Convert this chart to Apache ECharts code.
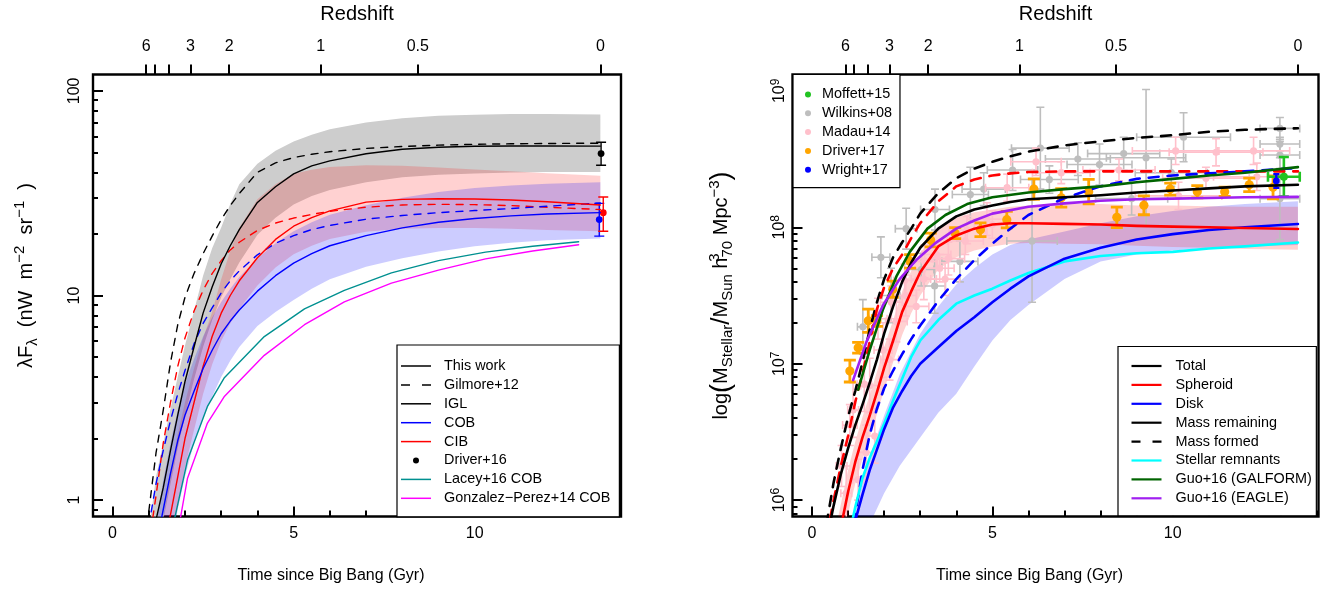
<!DOCTYPE html>
<html>
<head>
<meta charset="utf-8">
<script src="https://cdn.jsdelivr.net/npm/echarts@6/dist/echarts.min.js"></script>
<style>
html,body{margin:0;padding:0;background:#fff;}
#chart{width:1335px;height:599px;}
</style>
</head>
<body>
<div id="chart"></div>
<script>
// ---------- shared time axis (Gyr since Big Bang) and redshift ticks ----------
const redshiftZ = [6, 5, 4, 3, 2, 1, 0.5, 0];
const redshiftT = [0.93, 1.17, 1.55, 2.15, 3.22, 5.75, 8.43, 13.47];
const redshiftLabelled = [6, 3, 2, 1, 0.5, 0];
const timeMajor = [0, 5, 10];
const timeMinor = [1, 2, 3, 4, 6, 7, 8, 9, 11, 12, 13, 14];

// ---------- left panel: background light (nW m^-2 sr^-1) ----------
const eblMajor = [1, 10, 100];
const eblMinor = [0.9, 2, 3, 4, 5, 6, 7, 8, 9, 20, 30, 40, 50, 60, 70, 80, 90];

const tL = [1.0, 1.2, 1.4, 1.6, 1.8, 2.0, 2.25, 2.5, 2.75, 3.0, 3.25, 3.5, 4.0, 4.5, 5.0, 5.5, 6.0, 7.0, 8.0, 9.0, 10.0, 11.0, 12.0, 13.47];
const iglThisWork = [0.45, 0.80, 1.15, 1.75, 2.6, 3.8, 5.6, 8.2, 11.0, 14.3, 17.5, 21.0, 28.5, 34.0, 39.3, 43.0, 45.5, 49.3, 51.8, 53.0, 53.6, 53.8, 53.8, 53.7];
const iglLow = [0.3, 0.55, 0.8, 1.2, 1.8, 2.6, 3.9, 5.6, 7.6, 9.8, 12.0, 14.5, 19.8, 24.0, 27.8, 30.6, 32.8, 35.8, 37.8, 38.9, 39.5, 39.9, 40.1, 40.1];
const iglHigh = [0.7, 1.3, 1.9, 2.8, 4.0, 5.7, 8.4, 12.5, 17.0, 21.5, 28.0, 35.0, 44.0, 51.0, 56.5, 61.0, 65.0, 70.0, 73.5, 75.5, 76.5, 77.0, 77.0, 76.6];
const iglGilmore = [0.88, 1.7, 2.75, 4.7, 7.2, 9.8, 12.8, 16.0, 19.5, 23.5, 27.5, 31.5, 40.0, 44.5, 47.2, 49.0, 50.4, 52.3, 53.5, 54.3, 54.8, 55.1, 55.3, 55.5];
const cobThisWork = [0.35, 0.6, 0.9, 1.35, 1.95, 2.6, 3.4, 4.4, 5.4, 6.5, 7.5, 8.5, 10.5, 12.5, 14.4, 16.0, 17.5, 19.6, 21.4, 22.8, 23.8, 24.5, 25.0, 25.4];
const cobLow = [0.15, 0.25, 0.38, 0.55, 0.9, 1.3, 1.9, 2.5, 3.2, 4.0, 4.8, 5.6, 7.1, 8.3, 9.5, 10.8, 12.0, 13.8, 15.2, 16.4, 17.4, 18.1, 18.6, 19.0];
const cobHigh = [0.5, 0.75, 1.25, 1.9, 2.75, 3.7, 4.9, 6.3, 7.8, 9.3, 10.8, 12.3, 15.2, 18.0, 20.6, 22.8, 24.8, 27.6, 30.0, 32.0, 33.5, 34.5, 35.2, 35.8];
const cobGilmore = [0.75, 1.2, 1.75, 2.45, 3.3, 4.3, 5.8, 7.3, 8.7, 10.3, 11.8, 13.2, 15.8, 18.0, 19.6, 21.0, 22.0, 23.6, 24.6, 25.4, 26.0, 26.6, 27.3, 28.3];
const cibThisWork = [0.25, 0.4, 0.6, 0.85, 1.3, 2.0, 3.0, 4.5, 6.3, 8.2, 10.0, 11.8, 15.3, 18.8, 21.8, 24.0, 25.9, 28.6, 29.5, 29.7, 29.6, 29.3, 28.7, 27.7];
const cibLow = [0.18, 0.3, 0.45, 0.6, 0.95, 1.45, 2.2, 3.3, 4.6, 6.0, 7.3, 8.6, 11.2, 13.7, 15.9, 17.5, 18.9, 20.5, 21.2, 21.4, 21.4, 21.2, 20.9, 20.6];
const cibHigh = [0.35, 0.55, 0.82, 1.35, 2.1, 3.0, 4.4, 6.2, 8.3, 12.0, 16.5, 21.5, 29.5, 35.0, 39.3, 41.2, 42.4, 43.3, 43.0, 42.2, 41.3, 40.5, 39.6, 38.5];
const cibGilmore = [0.6, 1.05, 1.9, 3.0, 4.5, 6.2, 8.4, 10.6, 12.8, 14.8, 16.7, 18.2, 20.8, 22.6, 23.9, 24.9, 25.8, 27.0, 27.7, 27.9, 27.8, 27.5, 27.0, 26.3];

const laceyT = [1.55, 2.07, 2.62, 3.08, 4.19, 5.3, 6.4, 7.7, 9.0, 10.3, 11.6, 12.87];
const laceyCOB = [0.6, 1.57, 2.87, 3.95, 6.3, 8.6, 10.6, 12.9, 14.8, 16.3, 17.4, 18.3];
const gonzalezT = [1.7, 2.07, 2.62, 3.08, 4.19, 5.3, 6.4, 7.7, 9.0, 10.3, 11.6, 12.87];
const gonzalezCOB = [0.55, 1.28, 2.38, 3.2, 5.1, 7.2, 9.3, 11.5, 13.3, 15.1, 16.5, 17.7];

// Driver+16 measurements at z=0: IGL, COB, CIB
const driver16T = [13.49, 13.44, 13.55];
const driver16Val = [49.4, 23.5, 25.4];
const driver16Low = [43.3, 19.5, 20.6];
const driver16High = [56.1, 28.2, 30.3];
const driver16Colors = ['#000000', '#0000ff', '#ff0000'];

// ---------- right panel: stellar mass density (log10 values) ----------
const massMajor = [1e6, 1e7, 1e8, 1e9];
const massMinor = [8e5, 9e5, 2e6, 3e6, 4e6, 5e6, 6e6, 7e6, 8e6, 9e6, 2e7, 3e7, 4e7, 5e7, 6e7, 7e7, 8e7, 9e7, 2e8, 3e8, 4e8, 5e8, 6e8, 7e8, 8e8, 9e8];

const tR = [0.4, 0.6, 0.8, 1.0, 1.2, 1.4, 1.6, 1.8, 2.0, 2.25, 2.5, 2.75, 3.0, 3.5, 4.0, 4.5, 5.0, 5.5, 6.0, 7.0, 8.0, 9.0, 10.0, 11.0, 12.0, 13.47];
const logTotal = [5.70, 5.96, 6.19, 6.38, 6.55, 6.70, 6.86, 7.03, 7.22, 7.42, 7.60, 7.74, 7.85, 7.99, 8.08, 8.13, 8.16, 8.185, 8.205, 8.22, 8.235, 8.255, 8.27, 8.285, 8.30, 8.312];
const logSpheroid = [null, null, 5.80, 6.06, 6.28, 6.46, 6.62, 6.79, 6.97, 7.17, 7.38, 7.53, 7.67, 7.86, 7.94, 7.99, 8.02, 8.03, 8.03, 8.025, 8.02, 8.01, 8.005, 8.0, 7.995, 7.987];
const logDisk = [null, null, null, 5.6, 5.85, 6.04, 6.22, 6.37, 6.52, 6.68, 6.80, 6.91, 7.00, 7.12, 7.24, 7.34, 7.45, 7.55, 7.64, 7.77, 7.85, 7.91, 7.95, 7.98, 8.0, 8.024];
const logMassFormed = [5.82, 6.13, 6.38, 6.61, 6.80, 7.01, 7.25, 7.45, 7.62, 7.78, 7.89, 7.99, 8.10, 8.25, 8.36, 8.43, 8.48, 8.52, 8.555, 8.60, 8.63, 8.655, 8.675, 8.70, 8.715, 8.726];
const logSpheroidFormed = [5.72, 6.00, 6.25, 6.47, 6.72, 6.93, 7.16, 7.40, 7.56, 7.70, 7.80, 7.92, 8.03, 8.19, 8.30, 8.35, 8.38, 8.395, 8.405, 8.41, 8.41, 8.41, 8.41, 8.41, 8.41, 8.41];
const logDiskFormed = [null, null, null, 5.55, 5.89, 6.22, 6.48, 6.67, 6.82, 6.95, 7.07, 7.18, 7.28, 7.46, 7.62, 7.76, 7.88, 7.99, 8.09, 8.215, 8.30, 8.355, 8.38, 8.395, 8.41, 8.435];
const logRemnants = [null, null, null, 5.70, 5.95, 6.16, 6.31, 6.43, 6.56, 6.73, 6.89, 7.05, 7.17, 7.32, 7.44, 7.50, 7.55, 7.61, 7.665, 7.75, 7.79, 7.81, 7.82, 7.845, 7.86, 7.888];

const galformT = [1.28, 1.6, 1.97, 2.34, 2.71, 3.2, 3.7, 4.3, 5.0, 6.0, 7.0, 8.0, 9.0, 10.0, 11.0, 12.0, 13.47];
const logGalform = [6.81, 7.10, 7.40, 7.64, 7.82, 7.99, 8.09, 8.17, 8.22, 8.255, 8.28, 8.30, 8.33, 8.355, 8.38, 8.40, 8.441];
const eagleT = [1.14, 1.51, 1.97, 2.43, 2.89, 3.4, 4.0, 4.5, 5.0, 6.0, 7.0, 8.0, 9.0, 10.0, 11.0, 12.0, 13.47];
const logEagle = [6.88, 7.16, 7.43, 7.62, 7.76, 7.88, 7.99, 8.05, 8.10, 8.15, 8.175, 8.195, 8.205, 8.21, 8.215, 8.22, 8.223];

const diskBandT = [1.0, 1.15, 1.4, 1.7, 2.0, 2.43, 3.0, 3.5, 4.0, 4.5, 5.0, 5.5, 6.0, 7.0, 8.0, 9.0, 10.0, 11.0, 12.0, 13.47];
const logDiskHigh = [5.6, 5.88, 6.15, 6.40, 6.62, 6.92, 7.22, 7.42, 7.58, 7.70, 7.80, 7.87, 7.91, 7.97, 8.03, 8.08, 8.12, 8.15, 8.17, 8.19];
const logDiskLow = [4.9, 5.2, 5.5, 5.88, 6.05, 6.25, 6.46, 6.64, 6.78, 6.98, 7.17, 7.32, 7.43, 7.62, 7.75, 7.80, 7.83, 7.85, 7.86, 7.87];
const sphBandT = [0.6, 0.8, 1.0, 1.2, 1.4, 1.6, 1.8, 2.0, 2.25, 2.5, 2.75, 3.0, 3.5, 4.0, 4.5, 5.0, 5.5, 6.0, 7.0, 8.0, 9.0, 10.0, 11.0, 12.0, 13.47];
const logSphHigh = [5.72, 5.97, 6.22, 6.43, 6.61, 6.77, 6.94, 7.12, 7.32, 7.53, 7.68, 7.81, 7.99, 8.07, 8.11, 8.13, 8.15, 8.16, 8.17, 8.17, 8.16, 8.16, 8.155, 8.15, 8.15];
const logSphLow = [5.35, 5.62, 5.90, 6.12, 6.30, 6.46, 6.63, 6.81, 7.01, 7.21, 7.37, 7.50, 7.69, 7.78, 7.83, 7.86, 7.88, 7.885, 7.88, 7.875, 7.865, 7.855, 7.85, 7.84, 7.836];

// observational compilations: time, log mass, time error, log-mass error
const wilkinsT = [1.41, 1.91, 2.19, 2.61, 3.03, 3.40, 3.41, 4.10, 4.39, 4.76, 5.56, 6.10, 6.33, 6.58, 7.37, 7.97, 8.64, 8.86, 9.26, 9.96, 10.30, 12.97, 12.97, 12.97, 12.97];
const wilkinsLogM = [7.27, 7.78, 7.50, 7.99, 7.69, 7.57, 8.13, 7.75, 8.24, 8.28, 8.42, 7.90, 8.58, 8.35, 8.50, 8.46, 8.54, 8.21, 8.51, 8.40, 8.66, 8.725, 8.61, 8.53, 8.21];
const wilkinsTErr = [0.15, 0.25, 0.25, 0.3, 0.35, 0.3, 0.4, 0.5, 0.5, 0.6, 0.7, 0.7, 0.8, 0.8, 0.9, 0.9, 1.0, 1.0, 1.1, 1.0, 1.3, 0.55, 0.55, 0.55, 0.55];
const wilkinsLogErr = [0.2, 0.15, 0.2, 0.15, 0.12, 0.2, 0.15, 0.15, 0.2, 0.12, 0.15, 0.45, 0.3, 0.1, 0.12, 0.15, 0.12, 0.12, 0.5, 0.1, 0.18, 0.08, 0.05, 0.1, 0.3];

const madauT = [0.82, 0.95, 1.05, 1.14, 1.28, 1.45, 1.50, 1.60, 1.74, 1.83, 1.97, 2.15, 2.20, 2.34, 2.57, 2.60, 2.89, 3.10, 3.12, 3.45, 3.54, 3.69, 3.78, 4.25, 4.30, 4.85, 5.00, 5.41, 6.21, 6.91, 8.51, 10.08, 10.16, 10.92, 11.20, 12.24, 12.33];
const madauLogM = [6.25, 6.05, 6.55, 6.66, 6.15, 6.85, 6.35, 6.84, 6.47, 7.33, 7.10, 7.03, 7.45, 7.31, 7.61, 7.50, 7.42, 7.62, 7.75, 7.80, 7.70, 7.62, 7.77, 7.90, 7.98, 8.06, 8.02, 8.29, 8.48, 8.40, 8.42, 8.56, 8.23, 8.36, 8.55, 8.56, 8.37];
const madauTErr = [0.15, 0.15, 0.2, 0.15, 0.15, 0.2, 0.2, 0.25, 0.2, 0.25, 0.25, 0.25, 0.3, 0.3, 0.3, 0.3, 0.35, 0.35, 0.35, 0.4, 0.4, 0.4, 0.45, 0.5, 0.5, 0.55, 0.5, 0.6, 0.7, 0.8, 1.0, 1.2, 1.2, 1.2, 1.3, 1.0, 1.2];
const madauLogErr = [0.15, 0.2, 0.15, 0.2, 0.15, 0.2, 0.2, 0.2, 0.2, 0.15, 0.2, 0.15, 0.12, 0.15, 0.12, 0.15, 0.12, 0.15, 0.12, 0.1, 0.1, 0.12, 0.12, 0.1, 0.1, 0.12, 0.1, 0.1, 0.1, 0.08, 0.08, 0.1, 0.1, 0.08, 0.1, 0.1, 0.1];

const driver17T = [1.05, 1.28, 1.56, 1.80, 2.24, 2.72, 3.29, 3.97, 4.67, 5.40, 6.15, 6.91, 7.67, 8.45, 9.20, 9.93, 10.68, 11.44, 12.12, 12.78];
const driver17LogM = [6.946, 7.117, 7.315, 7.313, 7.546, 7.75, 7.907, 7.957, 7.982, 8.056, 8.28, 8.216, 8.261, 8.073, 8.161, 8.28, 8.26, 8.26, 8.311, 8.293];
const driver17LogErr = [0.08, 0.04, 0.085, 0.04, 0.06, 0.05, 0.05, 0.04, 0.05, 0.06, 0.075, 0.068, 0.09, 0.075, 0.069, 0.044, 0.045, 0.034, 0.05, 0.084];

const moffettT = [13.08];
const moffettLogM = [8.37];
const moffettTErr = [0.44];
const moffettLogErr = [0.145];

const wrightT = [12.87];
const wrightLogM = [8.34];
const wrightLogErr = [0.05];

// ---------- layout / style constants ----------
const FONT = '"Liberation Sans", Arial, Helvetica, sans-serif';
const T_MIN = -0.54, T_MAX = 14.04;
const EBL_MIN = 0.8318, EBL_MAX = 120.2;
const MASS_MIN = 7.586e5, MASS_MAX = 1.318e9;

const SOLID1 = 'path://M0,0H30V1.5H0Z';
const DASH1 = 'path://M0,0H9V1.5H0ZM21,0H30V1.5H21Z';
const SOLID2 = 'path://M0,0H30V2.2H0Z';
const DASH2 = 'path://M0,0H9V2.2H0ZM21,0H30V2.2H21Z';

const pow10 = v => Math.pow(10, v);

function redshiftText(v) {
  for (let i = 0; i < redshiftT.length; i++) {
    if (Math.abs(redshiftT[i] - v) < 1e-6) return String(redshiftZ[i]);
  }
  return '';
}
const redshiftLabelT = redshiftLabelled.map(z => redshiftT[redshiftZ.indexOf(z)]);

const tickLine = {color: '#000', width: 2};
const labelBase = {color: '#000', fontFamily: FONT, fontSize: 16};

function timeAxes(gridIndex) {
  return [
    {
      type: 'value', gridIndex, position: 'bottom', min: T_MIN, max: T_MAX,
      axisLine: {show: false, onZero: false}, splitLine: {show: false},
      axisTick: {show: true, inside: true, length: 10, lineStyle: tickLine, customValues: timeMajor},
      axisLabel: Object.assign({show: true, margin: 9, customValues: timeMajor}, labelBase),
      name: 'Time since Big Bang (Gyr)', nameLocation: 'middle', nameGap: 51, nameMoveOverlap: false,
      nameTextStyle: Object.assign({padding: [0, 52, 0, 0]}, labelBase)
    },
    {
      type: 'value', gridIndex, position: 'bottom', min: T_MIN, max: T_MAX,
      axisLine: {show: false, onZero: false}, splitLine: {show: false}, axisLabel: {show: false},
      axisTick: {show: true, inside: true, length: 6, lineStyle: tickLine, customValues: timeMinor}
    },
    {
      type: 'value', gridIndex, position: 'top', min: T_MIN, max: T_MAX,
      axisLine: {show: false, onZero: false}, splitLine: {show: false},
      axisTick: {show: true, inside: false, length: 10, lineStyle: tickLine, customValues: redshiftT},
      axisLabel: Object.assign({show: true, margin: 20, customValues: redshiftLabelT, formatter: redshiftText}, labelBase),
      name: 'Redshift', nameLocation: 'middle', nameGap: 50, nameMoveOverlap: false,
      nameTextStyle: Object.assign({}, labelBase, {fontSize: 20})
    }
  ];
}

const richName = {
  a: {fontSize: 20, fontFamily: FONT, color: '#000', lineHeight: 28, verticalAlign: 'middle'},
  p: {fontSize: 27, fontFamily: FONT, color: '#000', lineHeight: 28, verticalAlign: 'middle'},
  sl: {fontSize: 26, fontFamily: FONT, color: '#000', lineHeight: 28, verticalAlign: 'middle'},
  sb: {fontSize: 15, fontFamily: FONT, color: '#000', lineHeight: 14, verticalAlign: 'bottom'},
  sp: {fontSize: 15, fontFamily: FONT, color: '#000', lineHeight: 14, verticalAlign: 'top'},
  sz: {fontSize: 15, fontFamily: FONT, color: '#000', lineHeight: 14, verticalAlign: 'top', width: 0}
};

const yAxes = [
  // left panel, major ticks + labels
  {
    type: 'log', gridIndex: 0, position: 'left', min: EBL_MIN, max: EBL_MAX,
    axisLine: {show: false, onZero: false}, splitLine: {show: false}, minorTick: {show: false},
    axisTick: {show: true, inside: true, length: 10, lineStyle: tickLine, customValues: eblMajor},
    axisLabel: Object.assign({show: true, rotate: 90, margin: 10, customValues: eblMajor,
      formatter: v => String(Math.round(v))}, labelBase),
    name: '{a|λF}{sb|λ}{a|  (nW  m}{sp|−2}{a|  sr}{sp|−1}{a|  )}',
    nameLocation: 'middle', nameRotate: 90, nameGap: 53, nameMoveOverlap: false,
    nameTextStyle: {rich: richName, padding: [0, 0, 0, 40]}
  },
  {
    type: 'log', gridIndex: 0, position: 'left', min: EBL_MIN, max: EBL_MAX,
    axisLine: {show: false, onZero: false}, splitLine: {show: false}, axisLabel: {show: false},
    axisTick: {show: true, inside: true, length: 5, lineStyle: tickLine, customValues: eblMinor}
  },
  // right panel
  {
    type: 'log', gridIndex: 1, position: 'left', min: MASS_MIN, max: MASS_MAX,
    axisLine: {show: false, onZero: false}, splitLine: {show: false}, minorTick: {show: false},
    axisTick: {show: true, inside: true, length: 10, lineStyle: tickLine, customValues: massMajor},
    axisLabel: {show: true, rotate: 90, margin: 3, customValues: massMajor,
      formatter: v => '{b|10}{s|' + Math.round(Math.log10(v)) + '}',
      rich: {
        b: {fontSize: 16, fontFamily: FONT, color: '#000', lineHeight: 20, verticalAlign: 'middle'},
        s: {fontSize: 12, fontFamily: FONT, color: '#000', lineHeight: 12, verticalAlign: 'top'}
      }},
    name: '{a|log}{p|(}{a|M}{sb|Stellar}{sl|/}{a|M}{sb|Sun}{a| h}{sz|3}{sb|70}{a| Mpc}{sp|−3}{p|)}',
    nameLocation: 'middle', nameRotate: 90, nameGap: 57, nameMoveOverlap: false,
    nameTextStyle: {rich: richName}
  },
  {
    type: 'log', gridIndex: 1, position: 'left', min: MASS_MIN, max: MASS_MAX,
    axisLine: {show: false, onZero: false}, splitLine: {show: false}, axisLabel: {show: false},
    axisTick: {show: true, inside: true, length: 5, lineStyle: tickLine, customValues: massMinor}
  }
];

// ---------- series builders ----------
function lineSeries(name, xi, yi, ts, vs, color, width, dash, logValues) {
  const data = [];
  ts.forEach((t, i) => {
    if (vs[i] == null) return;
    data.push([t, logValues ? pow10(vs[i]) : vs[i]]);
  });
  return {
    type: 'line', name, xAxisIndex: xi, yAxisIndex: yi, data,
    symbol: 'none', showSymbol: false, clip: true, silent: true, smooth: false,
    itemStyle: {color}, lineStyle: {color, width, type: dash || 'solid', cap: 'round', join: 'round'}
  };
}

function legendOnly(name, xi, yi, color) {
  return {type: 'line', name, xAxisIndex: xi, yAxisIndex: yi, data: [], symbol: 'none',
    itemStyle: {color}, lineStyle: {color}};
}

function bandSeries(name, xi, yi, ts, lo, hi, fill, logValues) {
  const f = logValues ? pow10 : (v => v);
  const data = ts.map((t, i) => [t, f(lo[i]), f(hi[i])]);
  return {
    type: 'custom', name, xAxisIndex: xi, yAxisIndex: yi, clip: true, silent: true,
    data, encode: {x: 0, y: [1, 2]},
    renderItem(params, api) {
      if (params.dataIndex !== 0) return null;
      const upper = data.map(d => api.coord([d[0], d[2]]));
      const lower = data.map(d => api.coord([d[0], d[1]])).reverse();
      return {type: 'polygon', shape: {points: upper.concat(lower)}, style: {fill}};
    }
  };
}

// rows: [t, value, tLow, tHigh, valueLow, valueHigh]
function errorSeries(name, xi, yi, rows, st) {
  return {
    type: 'custom', name, xAxisIndex: xi, yAxisIndex: yi, clip: true, silent: true,
    itemStyle: {color: st.color}, data: rows, encode: {x: 0, y: 1},
    renderItem(params, api) {
      const t = api.value(0), v = api.value(1);
      const tl = api.value(2), th = api.value(3), vl = api.value(4), vh = api.value(5);
      const col = st.colors ? st.colors[params.dataIndex] : st.color;
      const seg = (x1, y1, x2, y2, w) => ({type: 'line', shape: {x1, y1, x2, y2},
        style: {stroke: col, lineWidth: w, lineCap: 'butt'}});
      const kids = [];
      if (th > tl) {
        const a = api.coord([tl, v]), b = api.coord([th, v]);
        kids.push(seg(a[0], a[1], b[0], b[1], st.lw));
        if (st.cap) {
          kids.push(seg(a[0], a[1] - st.cap, a[0], a[1] + st.cap, st.lw));
          kids.push(seg(b[0], b[1] - st.cap, b[0], b[1] + st.cap, st.lw));
        }
      }
      if (vh > vl) {
        const a = api.coord([t, vl]), b = api.coord([t, vh]);
        kids.push(seg(a[0], a[1], b[0], b[1], st.lw));
        if (st.cap) {
          kids.push(seg(a[0] - st.cap, a[1], a[0] + st.cap, a[1], st.lw));
          kids.push(seg(b[0] - st.cap, b[1], b[0] + st.cap, b[1], st.lw));
        }
      }
      const c = api.coord([t, v]);
      kids.push({type: 'circle', shape: {cx: c[0], cy: c[1], r: st.r}, style: {fill: col}});
      return {type: 'group', children: kids};
    }
  };
}

function massRows(ts, logM, tErr, logErr) {
  return ts.map((t, i) => {
    const te = tErr ? tErr[i] : 0;
    const le = logErr ? logErr[i] : 0;
    return [t, pow10(logM[i]), t - te, t + te, pow10(logM[i] - le), pow10(logM[i] + le)];
  });
}

const driver16Rows = driver16T.map((t, i) => [t, driver16Val[i], t, t, driver16Low[i], driver16High[i]]);

// left panel: axes 0..2 (x), 0..1 (y); right panel: axes 3..5 (x), 2..3 (y)
const LX = 0, LY = 0, RX = 3, RY = 2;
const D1 = [7, 7], D2 = [10, 9];

const series = [
  bandSeries('IGL range', LX, LY, tL, iglLow, iglHigh, '#cdcdcd'),
  bandSeries('CIB range', LX, LY, tL, cibLow, cibHigh, 'rgba(255,0,0,0.18)'),
  bandSeries('COB range', LX, LY, tL, cobLow, cobHigh, 'rgba(0,0,255,0.2)'),
  lineSeries('Gilmore+12', LX, LY, tL, iglGilmore, '#000', 1.4, D1),
  lineSeries('Gilmore+12 CIB', LX, LY, tL, cibGilmore, '#ff0000', 1.4, D1),
  lineSeries('Gilmore+12 COB', LX, LY, tL, cobGilmore, '#0000ff', 1.4, D1),
  lineSeries('IGL', LX, LY, tL, iglThisWork, '#000', 1.4),
  lineSeries('CIB', LX, LY, tL, cibThisWork, '#ff0000', 1.4),
  lineSeries('COB', LX, LY, tL, cobThisWork, '#0000ff', 1.4),
  lineSeries('Lacey+16 COB', LX, LY, laceyT, laceyCOB, '#009090', 1.4),
  lineSeries('Gonzalez−Perez+14 COB', LX, LY, gonzalezT, gonzalezCOB, '#ff00ff', 1.4),
  errorSeries('Driver+16', LX, LY, driver16Rows, {color: '#000', colors: driver16Colors, lw: 1.4, cap: 5, r: 3.4}),
  legendOnly('This work', LX, LY, '#000'),

  bandSeries('Disk range', RX, RY, diskBandT, logDiskLow, logDiskHigh, 'rgba(0,0,255,0.2)', true),
  bandSeries('Spheroid range', RX, RY, sphBandT, logSphLow, logSphHigh, 'rgba(255,0,0,0.18)', true),
  errorSeries('Wilkins+08', RX, RY, massRows(wilkinsT, wilkinsLogM, wilkinsTErr, wilkinsLogErr), {color: '#bebebe', lw: 1.6, cap: 4, r: 3.6}),
  errorSeries('Madau+14', RX, RY, massRows(madauT, madauLogM, madauTErr, madauLogErr), {color: '#ffc0cb', lw: 1.6, cap: 4, r: 3.6}),
  lineSeries('Mass formed', RX, RY, tR, logMassFormed, '#000', 2.6, D2, true),
  lineSeries('Spheroid formed', RX, RY, tR, logSpheroidFormed, '#ff0000', 2.6, D2, true),
  lineSeries('Disk formed', RX, RY, tR, logDiskFormed, '#0000ff', 2.6, D2, true),
  lineSeries('Stellar remnants', RX, RY, tR, logRemnants, '#00ffff', 2.6, null, true),
  lineSeries('Disk', RX, RY, tR, logDisk, '#0000ff', 2.6, null, true),
  lineSeries('Spheroid', RX, RY, tR, logSpheroid, '#ff0000', 2.6, null, true),
  lineSeries('Total', RX, RY, tR, logTotal, '#000', 2.6, null, true),
  lineSeries('Guo+16 (GALFORM)', RX, RY, galformT, logGalform, '#006400', 2.6, null, true),
  lineSeries('Guo+16 (EAGLE)', RX, RY, eagleT, logEagle, '#a020f0', 2.6, null, true),
  errorSeries('Driver+17', RX, RY, massRows(driver17T, driver17LogM, null, driver17LogErr), {color: '#ffa500', lw: 2.8, cap: 6, r: 4.6}),
  errorSeries('Moffett+15', RX, RY, massRows(moffettT, moffettLogM, moffettTErr, moffettLogErr), {color: '#22c322', lw: 2.6, cap: 5, r: 4}),
  errorSeries('Wright+17', RX, RY, massRows(wrightT, wrightLogM, null, wrightLogErr), {color: '#0000ff', lw: 2.4, cap: 3, r: 3.4}),
  legendOnly('Mass remaining', RX, RY, '#000')
];

const legendText = {color: '#000', fontFamily: FONT, fontSize: 14.4, lineHeight: 15};

const option = {
  backgroundColor: '#fff',
  animation: false,
  grid: [
    {left: 93, top: 74.5, width: 528, height: 442, show: true, borderColor: '#000', borderWidth: 2.4,
      backgroundColor: 'transparent', containLabel: false, outerBoundsMode: 'none'},
    {left: 792.5, top: 74.5, width: 526, height: 442, show: true, borderColor: '#000', borderWidth: 2.4,
      backgroundColor: 'transparent', containLabel: false, outerBoundsMode: 'none'}
  ],
  xAxis: timeAxes(0).concat(timeAxes(1)),
  yAxis: yAxes,
  legend: [
    {
      left: 397, top: 345, orient: 'vertical', align: 'left', selectedMode: false,
      itemWidth: 30, itemHeight: 6, itemGap: 3.9, padding: [13.5, 9, 11, 4],
      borderColor: '#000', borderWidth: 1.2, backgroundColor: '#fff',
      itemStyle: {borderWidth: 0},
      textStyle: Object.assign({padding: [0, 0, 0, 8]}, legendText),
      data: [
        {name: 'This work', icon: SOLID1}, {name: 'Gilmore+12', icon: DASH1}, {name: 'IGL', icon: SOLID1},
        {name: 'COB', icon: SOLID1}, {name: 'CIB', icon: SOLID1}, {name: 'Driver+16', icon: 'circle'},
        {name: 'Lacey+16 COB', icon: SOLID1}, {name: 'Gonzalez−Perez+14 COB', icon: SOLID1}
      ]
    },
    {
      left: 1118, top: 346.5, orient: 'vertical', align: 'left', selectedMode: false,
      itemWidth: 30, itemHeight: 6, itemGap: 3.9, padding: [12, 4.5, 10, 13.5],
      borderColor: '#000', borderWidth: 1.2, backgroundColor: '#fff',
      itemStyle: {borderWidth: 0},
      textStyle: Object.assign({padding: [0, 0, 0, 9]}, legendText),
      data: [
        {name: 'Total', icon: SOLID2}, {name: 'Spheroid', icon: SOLID2}, {name: 'Disk', icon: SOLID2},
        {name: 'Mass remaining', icon: SOLID2}, {name: 'Mass formed', icon: DASH2},
        {name: 'Stellar remnants', icon: SOLID2}, {name: 'Guo+16 (GALFORM)', icon: SOLID2},
        {name: 'Guo+16 (EAGLE)', icon: SOLID2}
      ]
    },
    {
      left: 793, top: 74.5, orient: 'vertical', align: 'left', selectedMode: false,
      itemWidth: 6, itemHeight: 6, itemGap: 3.8, padding: [12.5, 8, 10.5, 12],
      borderColor: '#000', borderWidth: 1.2, backgroundColor: '#fff',
      itemStyle: {borderWidth: 0},
      textStyle: Object.assign({padding: [0, 0, 0, 6]}, legendText),
      data: [
        {name: 'Moffett+15', icon: 'circle'}, {name: 'Wilkins+08', icon: 'circle'},
        {name: 'Madau+14', icon: 'circle'}, {name: 'Driver+17', icon: 'circle'},
        {name: 'Wright+17', icon: 'circle'}
      ]
    }
  ],
  series
};

const chart = echarts.init(document.getElementById('chart'), null, {renderer: 'canvas'});
chart.setOption(option);
</script>
</body>
</html>
